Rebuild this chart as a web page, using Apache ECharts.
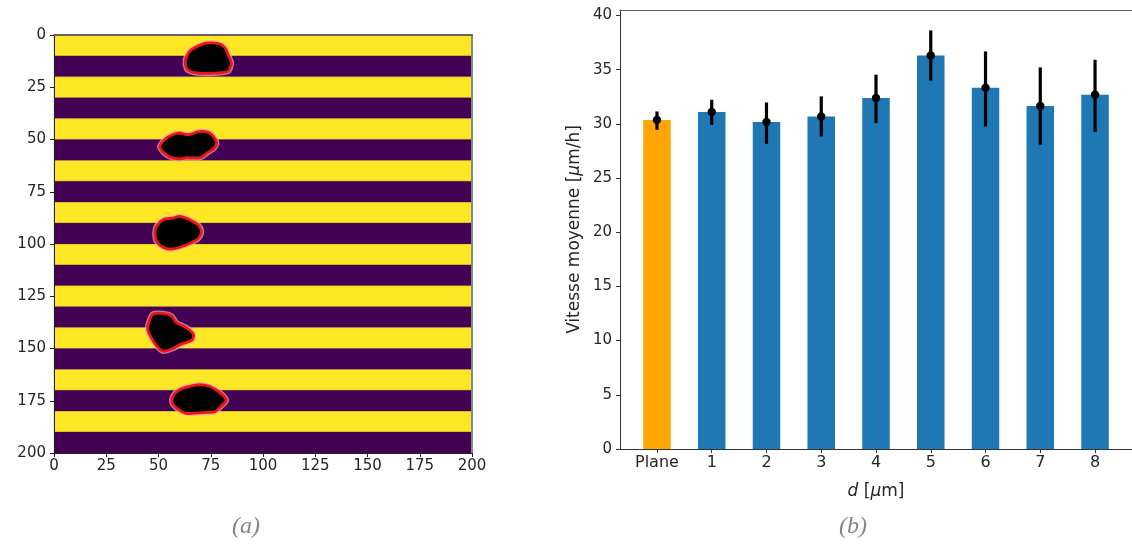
<!DOCTYPE html>
<html><head><meta charset="utf-8">
<script src="https://cdn.jsdelivr.net/npm/echarts@6/dist/echarts.min.js"></script>
<style>html,body{margin:0;padding:0;background:#fff}#c{width:1132px;height:544px}</style>
</head><body><div id="c"></div>
<script>
// ---------- panel (a): striped image ----------
const imgTicks = [0, 25, 50, 75, 100, 125, 150, 175, 200];
const stripeEdges = [0, 10, 20, 30, 40, 50, 60, 70, 80, 90, 100, 110, 120, 130, 140, 150, 160, 170, 180, 190, 200];
const stripeValues = [1, 0, 1, 0, 1, 0, 1, 0, 1, 0, 1, 0, 1, 0, 1, 0, 1, 0, 1, 0];
const blob1 = [[64.9,7.8],[67.5,6.0],[70.5,4.6],[73.0,3.9],[75.3,3.8],[78.0,4.0],[80.1,4.6],[82.0,6.5],[83.3,9.4],[84.9,13.4],[84.2,16.0],[83.3,17.4],[80.5,18.0],[77.7,18.2],[73.0,18.4],[68.9,18.2],[65.5,17.6],[63.3,15.8],[62.9,11.8],[64.1,9.0]];
const blob2 = [[50.6,53.3],[53.8,49.3],[57.0,47.6],[60.1,46.9],[63.0,47.6],[65.7,47.4],[68.5,46.4],[71.3,46.1],[74.5,46.9],[77.7,50.9],[76.8,54.0],[73.5,56.3],[70.2,58.6],[66.5,58.8],[63.3,58.7],[60.1,59.3],[57.5,58.9],[55.0,58.1],[52.2,56.0]];
const blob3 = [[49.0,91.6],[52.2,88.4],[56.9,87.6],[60.1,86.8],[62.5,87.4],[64.9,88.4],[68.9,90.8],[70.5,94.0],[69.3,97.1],[65.7,99.4],[61.0,101.3],[56.2,102.4],[52.2,101.6],[49.0,98.6],[48.3,94.7]];
const blob4 = [[47.4,133.5],[52.2,133.2],[56.2,134.4],[58.6,137.6],[63.3,140.0],[66.7,143.2],[66.0,146.0],[61.0,147.8],[56.9,150.0],[52.2,151.3],[49.0,148.6],[46.3,144.4],[44.8,140.7],[45.6,136.8]];
const blob5 = [[56.9,172.9],[60.1,169.7],[64.9,168.1],[69.7,167.3],[74.5,168.2],[79.3,171.0],[82.4,174.8],[80.3,177.2],[77.0,180.3],[73.0,180.6],[69.7,180.8],[63.3,181.0],[59.3,179.0],[56.7,176.3]];
const blobs = [blob1, blob2, blob3, blob4, blob5];

// ---------- panel (b): bar chart ----------
const categories = ['Plane', '1', '2', '3', '4', '5', '6', '7', '8'];
const meanSpeed = [30.35, 31.09, 30.17, 30.68, 32.38, 36.31, 33.33, 31.64, 32.68];
const errLow  = [29.45, 29.89, 28.16, 28.84, 30.07, 33.98, 29.76, 28.07, 29.24];
const errHigh = [31.14, 32.22, 31.97, 32.53, 34.53, 38.62, 36.68, 35.20, 35.91];
const speedTicks = [0, 5, 10, 15, 20, 25, 30, 35, 40];
const catPositions = [0, 1, 2, 3, 4, 5, 6, 7, 8];

const viridis = v => v ? '#fde725' : '#440154';
const txt = '#262626';
const font = 'DejaVu Sans';

const chart = echarts.init(document.getElementById('c'), null, {renderer: 'canvas'});
const option = {
  animation: false,
  textStyle: {fontFamily: font},
  grid: [
    {left: 54, top: 35, width: 418, height: 418},
    {left: 620, top: 10, width: 514, height: 439}
  ],
  xAxis: [
    {gridIndex: 0, type: 'value', min: 0, max: 200, interval: 25, position: 'bottom', z: 5,
     axisLine: {onZero: false, lineStyle: {color: '#222'}},
     axisTick: {length: 4, lineStyle: {color: '#222'}},
     axisLabel: {fontSize: 15, color: txt, margin: 6, fontFamily: font},
     splitLine: {show: false}},
    {gridIndex: 0, type: 'value', min: 0, max: 200, position: 'top', z: 5,
     axisLine: {show: true, onZero: false, lineStyle: {color: '#666', width: 2}},
     axisTick: {show: false}, axisLabel: {show: false}, splitLine: {show: false}},
    {gridIndex: 1, type: 'value', min: -0.675, max: 8.675, position: 'bottom', z: 5,
     axisLine: {onZero: false, lineStyle: {color: '#333'}},
     axisTick: {length: 4, customValues: catPositions, lineStyle: {color: '#333'}},
     axisLabel: {customValues: catPositions, formatter: v => categories[Math.round(v)],
                 fontSize: 16, color: txt, margin: 6, fontFamily: font},
     splitLine: {show: false},
     name: '{i|d} [{i|\u03bc}m]', nameLocation: 'middle', nameGap: 34,
     nameTextStyle: {fontSize: 17, color: txt, fontFamily: font,
                     rich: {i: {fontStyle: 'italic', fontSize: 17, color: txt, fontFamily: font}}}},
    {gridIndex: 1, type: 'value', min: -0.675, max: 8.675, position: 'top', z: 5,
     axisLine: {show: true, onZero: false, lineStyle: {color: '#666', width: 1.2}},
     axisTick: {show: false}, axisLabel: {show: false}, splitLine: {show: false}}
  ],
  yAxis: [
    {gridIndex: 0, type: 'value', inverse: true, min: 0, max: 200, interval: 25, position: 'left', z: 5,
     axisLine: {show: true, onZero: false, lineStyle: {color: '#222'}},
     axisTick: {show: true, length: 4, lineStyle: {color: '#222'}},
     axisLabel: {fontSize: 15, color: txt, margin: 8, fontFamily: font},
     splitLine: {show: false}},
    {gridIndex: 0, type: 'value', inverse: true, min: 0, max: 200, position: 'right', z: 5,
     axisLine: {show: true, onZero: false, lineStyle: {color: '#888', width: 2}},
     axisTick: {show: false}, axisLabel: {show: false}, splitLine: {show: false}},
    {gridIndex: 1, type: 'value', min: 0, max: 40.5, position: 'left', z: 5,
     axisLine: {show: true, onZero: false, lineStyle: {color: '#333'}},
     axisTick: {show: true, length: 4, customValues: speedTicks, lineStyle: {color: '#333'}},
     axisLabel: {customValues: speedTicks, fontSize: 15, color: txt, margin: 8, fontFamily: font},
     splitLine: {show: false},
     name: 'Vitesse moyenne [{i|\u03bc}m/h]', nameLocation: 'middle', nameGap: 37,
     nameTextStyle: {fontSize: 17, color: txt, fontFamily: font,
                     rich: {i: {fontStyle: 'italic', fontSize: 17, color: txt, fontFamily: font}}}}
  ],
  series: [
    {type: 'custom', xAxisIndex: 0, yAxisIndex: 0, z: 1, silent: true,
     data: stripeValues.map((v, i) => [stripeEdges[i], stripeEdges[i + 1], v]),
     renderItem: (params, api) => {
       const p0 = api.coord([0, api.value(0)]);
       const p1 = api.coord([200, api.value(1)]);
       return {type: 'rect',
               shape: {x: p0[0], y: Math.min(p0[1], p1[1]), width: p1[0] - p0[0], height: Math.abs(p1[1] - p0[1])},
               style: {fill: viridis(api.value(2)), stroke: 'rgba(60,40,20,0.35)', lineWidth: 0.6}};
     }},
    {type: 'custom', xAxisIndex: 0, yAxisIndex: 0, z: 2, silent: true, clip: true,
     data: blobs.map(b => b[0]),
     renderItem: (params, api) => {
       const pts = blobs[params.dataIndex].map(p => api.coord(p));
       return {type: 'group', children: [
         {type: 'polygon', shape: {points: pts, smooth: 0.3}, style: {fill: 'none', stroke: 'rgba(235,160,185,0.75)', lineWidth: 5.5, lineJoin: 'round'}},
         {type: 'polygon', shape: {points: pts, smooth: 0.3}, style: {fill: '#000', stroke: '#f01414', lineWidth: 2.8, lineJoin: 'round'}}
       ]};
     }},
    {type: 'bar', xAxisIndex: 2, yAxisIndex: 2, barWidth: 27.5, silent: true,
     data: meanSpeed.map((v, i) => [catPositions[i], v]),
     itemStyle: {color: p => categories[p.dataIndex] === 'Plane' ? '#ffa500' : '#1f77b4'}},
    {type: 'custom', xAxisIndex: 2, yAxisIndex: 2, z: 4, silent: true,
     data: meanSpeed.map((v, i) => [catPositions[i], v, errLow[i], errHigh[i]]),
     renderItem: (params, api) => {
       const x = api.value(0);
       const lo = api.coord([x, api.value(2)]);
       const hi = api.coord([x, api.value(3)]);
       const m = api.coord([x, api.value(1)]);
       return {type: 'group', children: [
         {type: 'line', shape: {x1: lo[0], y1: lo[1], x2: hi[0], y2: hi[1]}, style: {stroke: '#000', lineWidth: 3.2}},
         {type: 'circle', shape: {cx: m[0], cy: m[1], r: 4.2}, style: {fill: '#000'}}
       ]};
     }}
  ],
  graphic: [
    {type: 'text', x: 246, y: 527, style: {text: '(a)', fontSize: 24, fontStyle: 'italic', fontFamily: 'Liberation Serif', fill: '#858585', align: 'center', verticalAlign: 'middle'}},
    {type: 'text', x: 853, y: 527, style: {text: '(b)', fontSize: 24, fontStyle: 'italic', fontFamily: 'Liberation Serif', fill: '#858585', align: 'center', verticalAlign: 'middle'}}
  ]
};
chart.setOption(option);
</script>
</body></html>
